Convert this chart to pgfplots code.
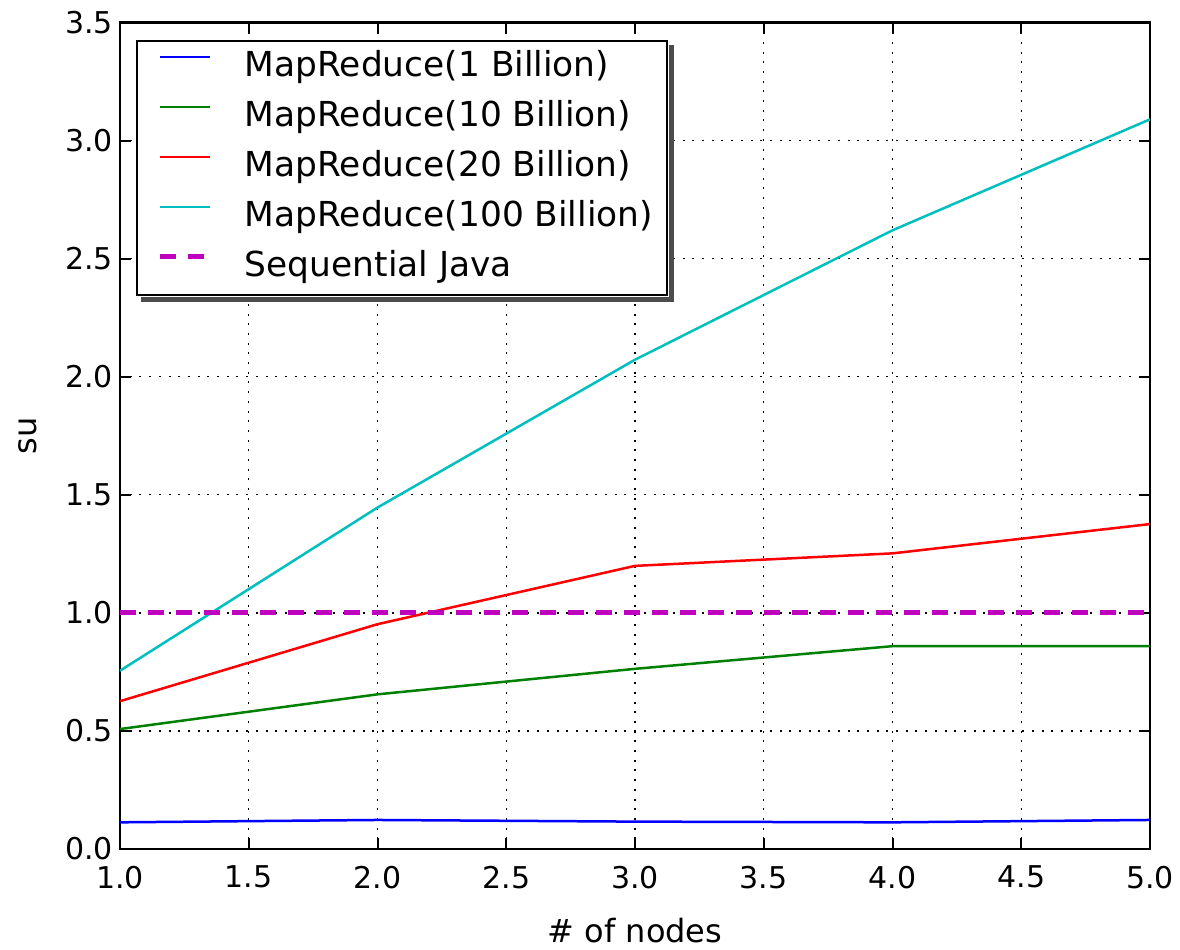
\documentclass[border=0pt]{standalone}
\usepackage{fontspec}
\setmainfont{DejaVu Sans}
\usepackage{pgfplots}
\pgfplotsset{compat=1.18}
\definecolor{mplb}{rgb}{0,0,1}
\definecolor{mplg}{rgb}{0,0.5,0}
\definecolor{mplr}{rgb}{1,0,0}
\definecolor{mplc}{rgb}{0,0.75,0.75}
\definecolor{mplm}{rgb}{0.75,0,0.75}
\begin{document}
\begin{tikzpicture}
\begin{axis}[
  scale only axis, width=515pt, height=413.25pt,
  xmin=1, xmax=5, ymin=0, ymax=3.5,
  xtick={1,1.5,...,5}, ytick={0,0.5,...,3.5},
  /pgf/number format/fixed, /pgf/number format/fixed zerofill,
  /pgf/number format/precision=1, /pgf/number format/assume math mode=true,
  tick align=inside, major tick length=5.5pt,
  tick style={black, line width=1pt},
  axis line style={black, line width=1.25pt},
  grid=major,
  major grid style={black, line width=0.7pt, dash pattern=on 1pt off 3.85pt},
  tick label style={font=\fontsize{15}{18}\selectfont},
  xticklabel style={anchor=north, yshift=-5pt},
  xlabel={\# of nodes}, ylabel={su},
  every axis x label/.style={at={([yshift=-41pt]rel axis cs:0.5,0)}, anchor=center, font=\fontsize{16}{19}\selectfont},
  every axis y label/.style={at={([xshift=-46pt]rel axis cs:0,0.5)}, rotate=90, anchor=center, font=\fontsize{16}{19}\selectfont},
  legend cell align=left,
  legend image code/.code={\path (0pt,5.5pt); \draw[#1] (3.5pt,5.5pt) -- (28.5pt,5.5pt);},
  legend style={name=leg, at={(0.0155,0.979)}, anchor=north west, draw=black, line width=1pt, fill=white,
    font=\fontsize{17.2}{20}\selectfont, inner xsep=7pt, inner ysep=6pt,
    row sep=10pt, column sep=16pt,
    nodes={inner sep=0pt, text height=12pt, text depth=3pt}},
]
\addplot[mplb, line width=1.25pt] coordinates {(1,0.113) (2,0.123) (3,0.116) (4,0.113) (5,0.123)};
\addlegendentry{MapReduce(1 Billion)}
\addplot[mplg, line width=1.25pt] coordinates {(1,0.508) (2,0.655) (3,0.763) (4,0.859) (5,0.859)};
\addlegendentry{MapReduce(10 Billion)}
\addplot[mplr, line width=1.25pt] coordinates {(1,0.626) (2,0.952) (3,1.199) (4,1.252) (5,1.376)};
\addlegendentry{MapReduce(20 Billion)}
\addplot[mplc, line width=1.25pt] coordinates {(1,0.755) (2,1.446) (3,2.072) (4,2.62) (5,3.09)};
\addlegendentry{MapReduce(100 Billion)}
\addplot[mplm, line width=2.5pt, dash pattern=on 8pt off 6pt] coordinates {(1,1) (5,1)};
\addlegendentry{Sequential Java}
\end{axis}
\fill[black!70] ([xshift=0.5pt,yshift=-2.5pt]leg.north east) rectangle ([xshift=3pt,yshift=-3pt]leg.south east);
\fill[black!70] ([xshift=2.5pt,yshift=-0.5pt]leg.south west) rectangle ([xshift=3pt,yshift=-3pt]leg.south east);
\pgfresetboundingbox
\path[use as bounding box] ([xshift=-60pt,yshift=-50pt]current axis.south west) rectangle ([xshift=15pt,yshift=11.25pt]current axis.north east);
\end{tikzpicture}
\end{document}
